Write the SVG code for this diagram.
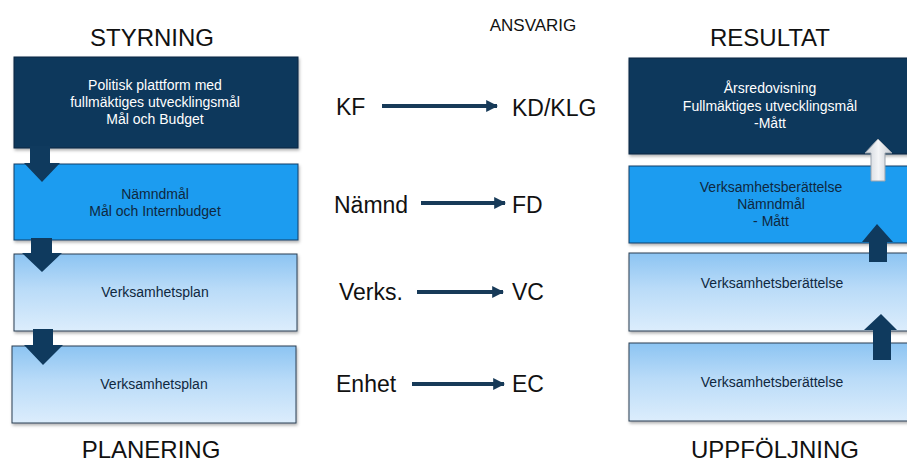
<svg xmlns="http://www.w3.org/2000/svg" width="907" height="463" viewBox="0 0 907 463">
<defs>
<linearGradient id="lb" x1="0" y1="0" x2="0" y2="1">
<stop offset="0" stop-color="#8cc4f2"/>
<stop offset="0.45" stop-color="#b9dbf8"/>
<stop offset="1" stop-color="#dcedfc"/>
</linearGradient>
<linearGradient id="wa" x1="0" y1="0" x2="1" y2="0">
<stop offset="0" stop-color="#c9cfd6"/>
<stop offset="0.5" stop-color="#f4f5f7"/>
<stop offset="1" stop-color="#c4cad2"/>
</linearGradient>
<filter id="sh" x="-5%" y="-10%" width="110%" height="125%">
<feDropShadow dx="1" dy="2" stdDeviation="1.5" flood-color="#000" flood-opacity="0.3"/>
</filter>
<marker id="ah" viewBox="0 0 10 10" refX="9" refY="5" markerWidth="3" markerHeight="3" orient="auto" markerUnits="strokeWidth">
<path d="M0,0 L10,5 L0,10 z" fill="#173a58"/>
</marker>
<style>
.dark{fill:#10375c;stroke:#0b2740;stroke-width:1;filter:url(#sh)}
.mid{fill:#1c9cf0;stroke:#0f3f66;stroke-width:1;filter:url(#sh)}
.light{fill:url(#lb);stroke:#2b3f52;stroke-width:1;filter:url(#sh)}
.bt{font-family:"Liberation Sans",Arial,sans-serif;font-size:14px;text-anchor:middle}
.w{fill:#ffffff}
.n{fill:#0f2840}
.hd{font-family:"Liberation Sans",Arial,sans-serif;font-size:24px;fill:#111;text-anchor:middle}
.ct{font-family:"Liberation Sans",Arial,sans-serif;font-size:23px;fill:#111}
.ca{stroke:#173a58;stroke-width:4;fill:none;marker-end:url(#ah)}
.da{fill:#0f3a5e}
</style>
</defs>
<rect width="907" height="463" fill="#ffffff"/>

<text class="hd" x="152" y="46">STYRNING</text>
<text class="hd" x="151" y="458">PLANERING</text>
<text class="hd" x="775" y="458">UPPFÖLJNING</text>
<text class="hd" x="770" y="46">RESULTAT</text>
<text x="533" y="31" style="font-family:'Liberation Sans',Arial,sans-serif;font-size:17px;fill:#111;text-anchor:middle">ANSVARIG</text>

<g id="plan1">
<rect class="dark" x="14" y="57" width="284" height="91"/>
<text class="bt w" x="155" y="90">Politisk plattform med</text>
<text class="bt w" x="155" y="107">fullmäktiges utvecklingsmål</text>
<text class="bt w" x="155" y="124">Mål och Budget</text>
</g>
<g id="plan2">
<rect class="mid" x="14" y="164" width="284" height="76"/>
<text class="bt n" x="155" y="199">Nämndmål</text>
<text class="bt n" x="155" y="216">Mål och Internbudget</text>
</g>
<g id="plan3">
<rect class="light" x="14" y="254" width="283" height="77"/>
<text class="bt n" x="155" y="297">Verksamhetsplan</text>
</g>
<g id="plan4">
<rect class="light" x="12" y="346" width="284" height="77"/>
<text class="bt n" x="154" y="389">Verksamhetsplan</text>
</g>

<g id="res1">
<rect class="dark" x="629" y="58" width="290" height="96"/>
<text class="bt w" x="770" y="93">Årsredovisning</text>
<text class="bt w" x="770" y="111">Fullmäktiges utvecklingsmål</text>
<text class="bt w" x="770" y="128">-Mått</text>
</g>
<g id="res2">
<rect class="mid" x="629" y="166" width="290" height="77"/>
<text class="bt n" x="771" y="192">Verksamhetsberättelse</text>
<text class="bt n" x="771" y="209">Nämndmål</text>
<text class="bt n" x="771" y="226">- Mått</text>
</g>
<g id="res3">
<rect class="light" x="629" y="253" width="290" height="78"/>
<text class="bt n" x="772" y="288">Verksamhetsberättelse</text>
</g>
<g id="res4">
<rect class="light" x="629" y="343" width="290" height="78"/>
<text class="bt n" x="772" y="387">Verksamhetsberättelse</text>
</g>

<g id="ansvar">
<text class="ct" x="336" y="115">KF</text>
<text class="ct" x="512" y="116">KD/KLG</text>
<text class="ct" x="334" y="213">Nämnd</text>
<text class="ct" x="512" y="213">FD</text>
<text class="ct" x="339" y="300">Verks.</text>
<text class="ct" x="512" y="300">VC</text>
<text class="ct" x="336" y="392">Enhet</text>
<text class="ct" x="512" y="392">EC</text>
</g>

<g id="connectors">
<line class="ca" x1="382" y1="106" x2="497" y2="106"/>
<line class="ca" x1="421" y1="203" x2="505" y2="203"/>
<line class="ca" x1="417" y1="292" x2="503" y2="292"/>
<line class="ca" x1="412" y1="384" x2="504" y2="384"/>
<polygon class="da" points="30,146 50,146 50,163 60,163 42,182 24,163 30,163"/>
<polygon class="da" points="31,238 52,238 52,253 62,253 42,272 22,253 31,253"/>
<polygon class="da" points="33,329 53,329 53,345 63,345 43,365 24,345 33,345"/>
<polygon points="871,181 885,181 885,153 892,153 878,139 865,153 871,153" fill="url(#wa)" stroke="#9aa3ad" stroke-width="1"/>
<polygon class="da" points="869,262 887,262 887,242 893,242 877,224 862,242 869,242"/>
<polygon class="da" points="873,360 891,360 891,330 897,330 881,314 864,330 873,330"/>
</g>
</svg>
